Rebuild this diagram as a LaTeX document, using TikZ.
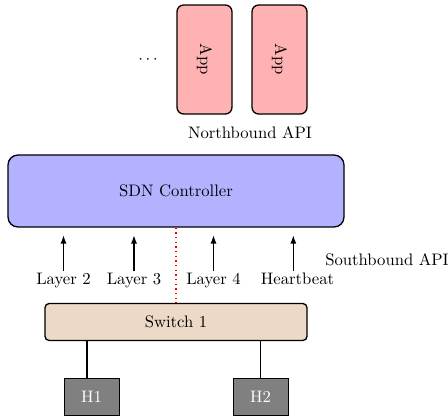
\documentclass[tikz,border=0pt]{standalone}
\usetikzlibrary{calc,arrows.meta}
\begin{document}
\begin{tikzpicture}[x=0.6pt, y=-0.6pt,
    app/.style={draw, thick, fill=red!30, rounded corners=4pt, rotate=-90,
        minimum width=65.4pt, minimum height=33pt},
    ctrlbox/.style={draw, thick, fill=blue!30, rounded corners=6pt,
        minimum width=201.6pt, minimum height=43.2pt},
    switchbox/.style={draw, thick, fill=brown!30, rounded corners=2.5pt,
        minimum width=157.2pt, minimum height=22.2pt},
    host/.style={draw, fill=black!50, text=white,
        minimum width=33pt, minimum height=22.2pt},
    proto/.style={inner sep=1pt, anchor=north},
    link/.style={-{Latex[length=5pt,width=3.6pt]}, thick}]
    \useasboundingbox (0,0) rectangle (448,418);
    \node[app] (app1) at (204.5,59.5) {App};
    \node[app] (app2) at (279.5,59.5) {App};
    \node (dots) at (148,60) {$\cdots$};
    \node (nb) at (250,133) {Northbound API};
    \node[ctrlbox] (ctrl) at (176,191) {SDN Controller};
    \node[proto] (l2) at (63.5,271) {Layer 2};
    \node[proto] (l3) at (134,271) {Layer 3};
    \node[proto] (l4) at (213.5,271) {Layer 4};
    \node[proto] (hb) at (297.5,271) {Heartbeat};
    \node (sb) at (387,260) {Southbound API};
    \node[switchbox] (sw) at (176,322) {Switch 1};
    \node[host] (h1) at (91.5,397) {H1};
    \node[host] (h2) at (260.5,397) {H2};
    \draw[link, shorten >=4.5pt] (l2.north) -- (l2.north |- ctrl.south);
    \draw[link, shorten >=4.5pt] (l3.north) -- (l3.north |- ctrl.south);
    \draw[link, shorten >=4.5pt] (l4.north) -- (l4.north |- ctrl.south);
    \draw[link, shorten >=4.5pt] ([xshift=-2.5pt]hb.north) -- ([xshift=-2.5pt]hb.north |- ctrl.south);
    \draw[red, dotted, thick] (ctrl.south) -- (sw.north);
    \draw[thick] ([xshift=-2.7pt]h1.north) -- ([xshift=-2.7pt]h1.north |- sw.south);
    \draw[thick] (h2.north) -- (h2.north |- sw.south);
\end{tikzpicture}
\end{document}
